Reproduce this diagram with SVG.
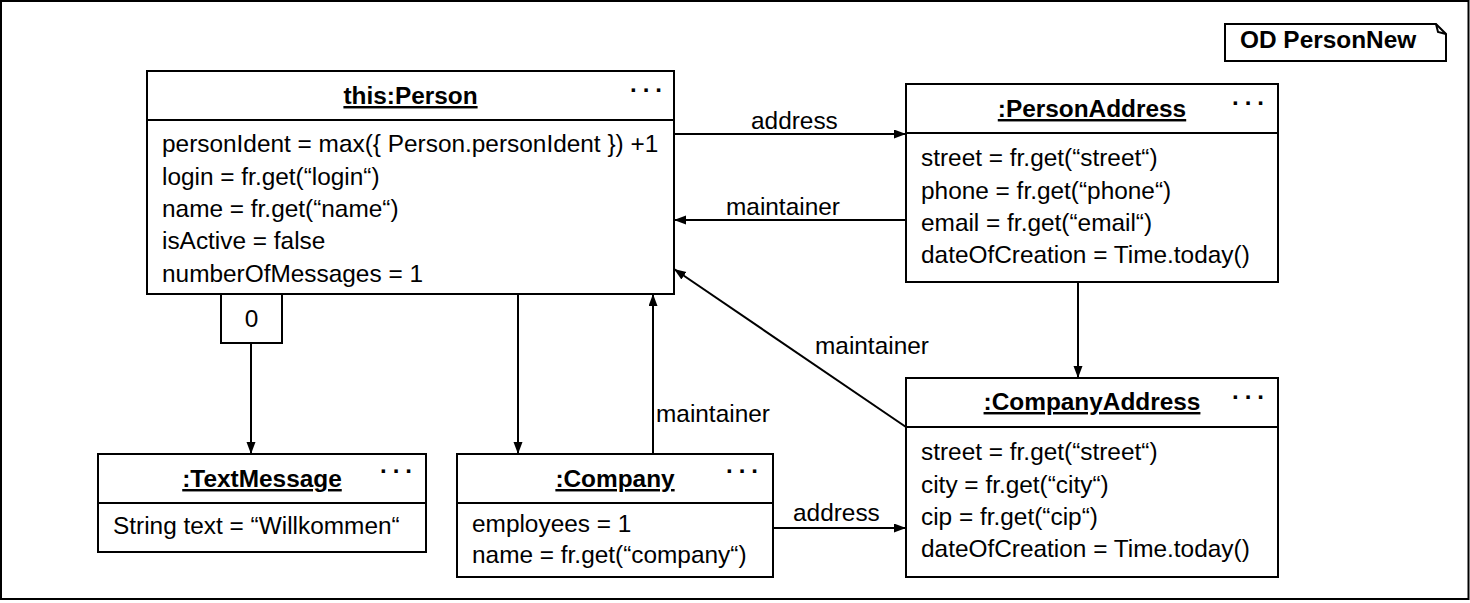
<svg xmlns="http://www.w3.org/2000/svg" width="1470" height="603" viewBox="0 0 1470 603">
<style>
  .box{fill:#fff;stroke:#000;stroke-width:2}
  .ln{fill:none;stroke:#000;stroke-width:2}
  .t{font-family:"Liberation Sans",Arial,sans-serif;font-size:24.4px;fill:#000}
  .title{font-family:"Liberation Sans",Arial,sans-serif;font-size:24.4px;font-weight:bold;fill:#000;text-anchor:middle;text-decoration:underline}
  .dots{font-family:"Liberation Sans",Arial,sans-serif;font-size:24px;font-weight:bold;fill:#000;letter-spacing:6px}
  .conn{fill:none;stroke:#000;stroke-width:2;marker-end:url(#arr)}
</style>
<defs>
  <marker id="arr" markerUnits="userSpaceOnUse" markerWidth="13" markerHeight="10" refX="12" refY="4.5" orient="auto">
    <path d="M0,0 L12,4.5 L0,9 z" fill="#000"/>
  </marker>
</defs>
<rect x="0" y="0" width="1470" height="603" fill="#fff"/>
<rect x="1" y="1" width="1467.5" height="598" class="ln"/>

<g id="note">
  <path d="M1225,24 L1436,24 L1446,34 L1446,61 L1225,61 Z" class="box"/>
  <path d="M1436,24 L1438,32 L1446,34" class="ln" stroke-width="1"/>
  <text x="1240" y="48" class="t" font-weight="bold">OD PersonNew</text>
</g>

<g id="connectors">
  <path d="M674,134 L906,134" class="conn"/>
  <path d="M906,220 L674,220" class="conn"/>
  <path d="M906,427 L674,269" class="conn"/>
  <path d="M1078,282 L1078,378" class="conn"/>
  <path d="M251,343 L251,454" class="conn"/>
  <path d="M518,294 L518,454" class="conn"/>
  <path d="M653,454 L653,294" class="conn"/>
  <path d="M773,528 L906,528" class="conn"/>
  <text x="751" y="129" class="t">address</text>
  <text x="726" y="215" class="t">maintainer</text>
  <text x="815" y="354" class="t">maintainer</text>
  <text x="656" y="422" class="t">maintainer</text>
  <text x="793" y="521" class="t">address</text>
</g>

<g id="person">
  <rect x="147" y="71" width="527" height="223" class="box"/>
  <line x1="147" y1="120" x2="674" y2="120" class="ln"/>
  <text x="410.5" y="104" class="title">this:Person</text>
  <text x="630" y="92" class="dots">...</text>
  <text x="162" y="152" class="t">personIdent = max({ Person.personIdent }) +1</text>
  <text x="162" y="185" class="t">login = fr.get(“login“)</text>
  <text x="162" y="217" class="t">name = fr.get(“name“)</text>
  <text x="162" y="249" class="t">isActive = false</text>
  <text x="162" y="282" class="t">numberOfMessages = 1</text>
</g>

<g id="qualifier">
  <rect x="221" y="294" width="61" height="49" class="box"/>
  <text x="251.5" y="327" class="t" text-anchor="middle">0</text>
</g>

<g id="personAddress">
  <rect x="906" y="84" width="372" height="198" class="box"/>
  <line x1="906" y1="133" x2="1278" y2="133" class="ln"/>
  <text x="1092" y="117" class="title">:PersonAddress</text>
  <text x="1232" y="105" class="dots">...</text>
  <text x="921" y="166" class="t">street = fr.get(“street“)</text>
  <text x="921" y="199" class="t">phone = fr.get(“phone“)</text>
  <text x="921" y="231" class="t">email = fr.get(“email“)</text>
  <text x="921" y="263" class="t">dateOfCreation = Time.today()</text>
</g>

<g id="companyAddress">
  <rect x="906" y="378" width="372" height="199" class="box"/>
  <line x1="906" y1="427" x2="1278" y2="427" class="ln"/>
  <text x="1092" y="410" class="title">:CompanyAddress</text>
  <text x="1232" y="399" class="dots">...</text>
  <text x="921" y="460" class="t">street = fr.get(“street“)</text>
  <text x="921" y="493" class="t">city = fr.get(“city“)</text>
  <text x="921" y="525" class="t">cip = fr.get(“cip“)</text>
  <text x="921" y="557" class="t">dateOfCreation = Time.today()</text>
</g>

<g id="company">
  <rect x="457" y="454" width="316" height="123" class="box"/>
  <line x1="457" y1="503" x2="773" y2="503" class="ln"/>
  <text x="615" y="487" class="title">:Company</text>
  <text x="726" y="473" class="dots">...</text>
  <text x="472" y="532" class="t">employees = 1</text>
  <text x="472" y="563" class="t">name = fr.get(“company“)</text>
</g>

<g id="textMessage">
  <rect x="98" y="454" width="328" height="98" class="box"/>
  <line x1="98" y1="503" x2="426" y2="503" class="ln"/>
  <text x="262" y="487" class="title">:TextMessage</text>
  <text x="380" y="473" class="dots">...</text>
  <text x="113" y="534" class="t">String text = “Willkommen“</text>
</g>
</svg>
